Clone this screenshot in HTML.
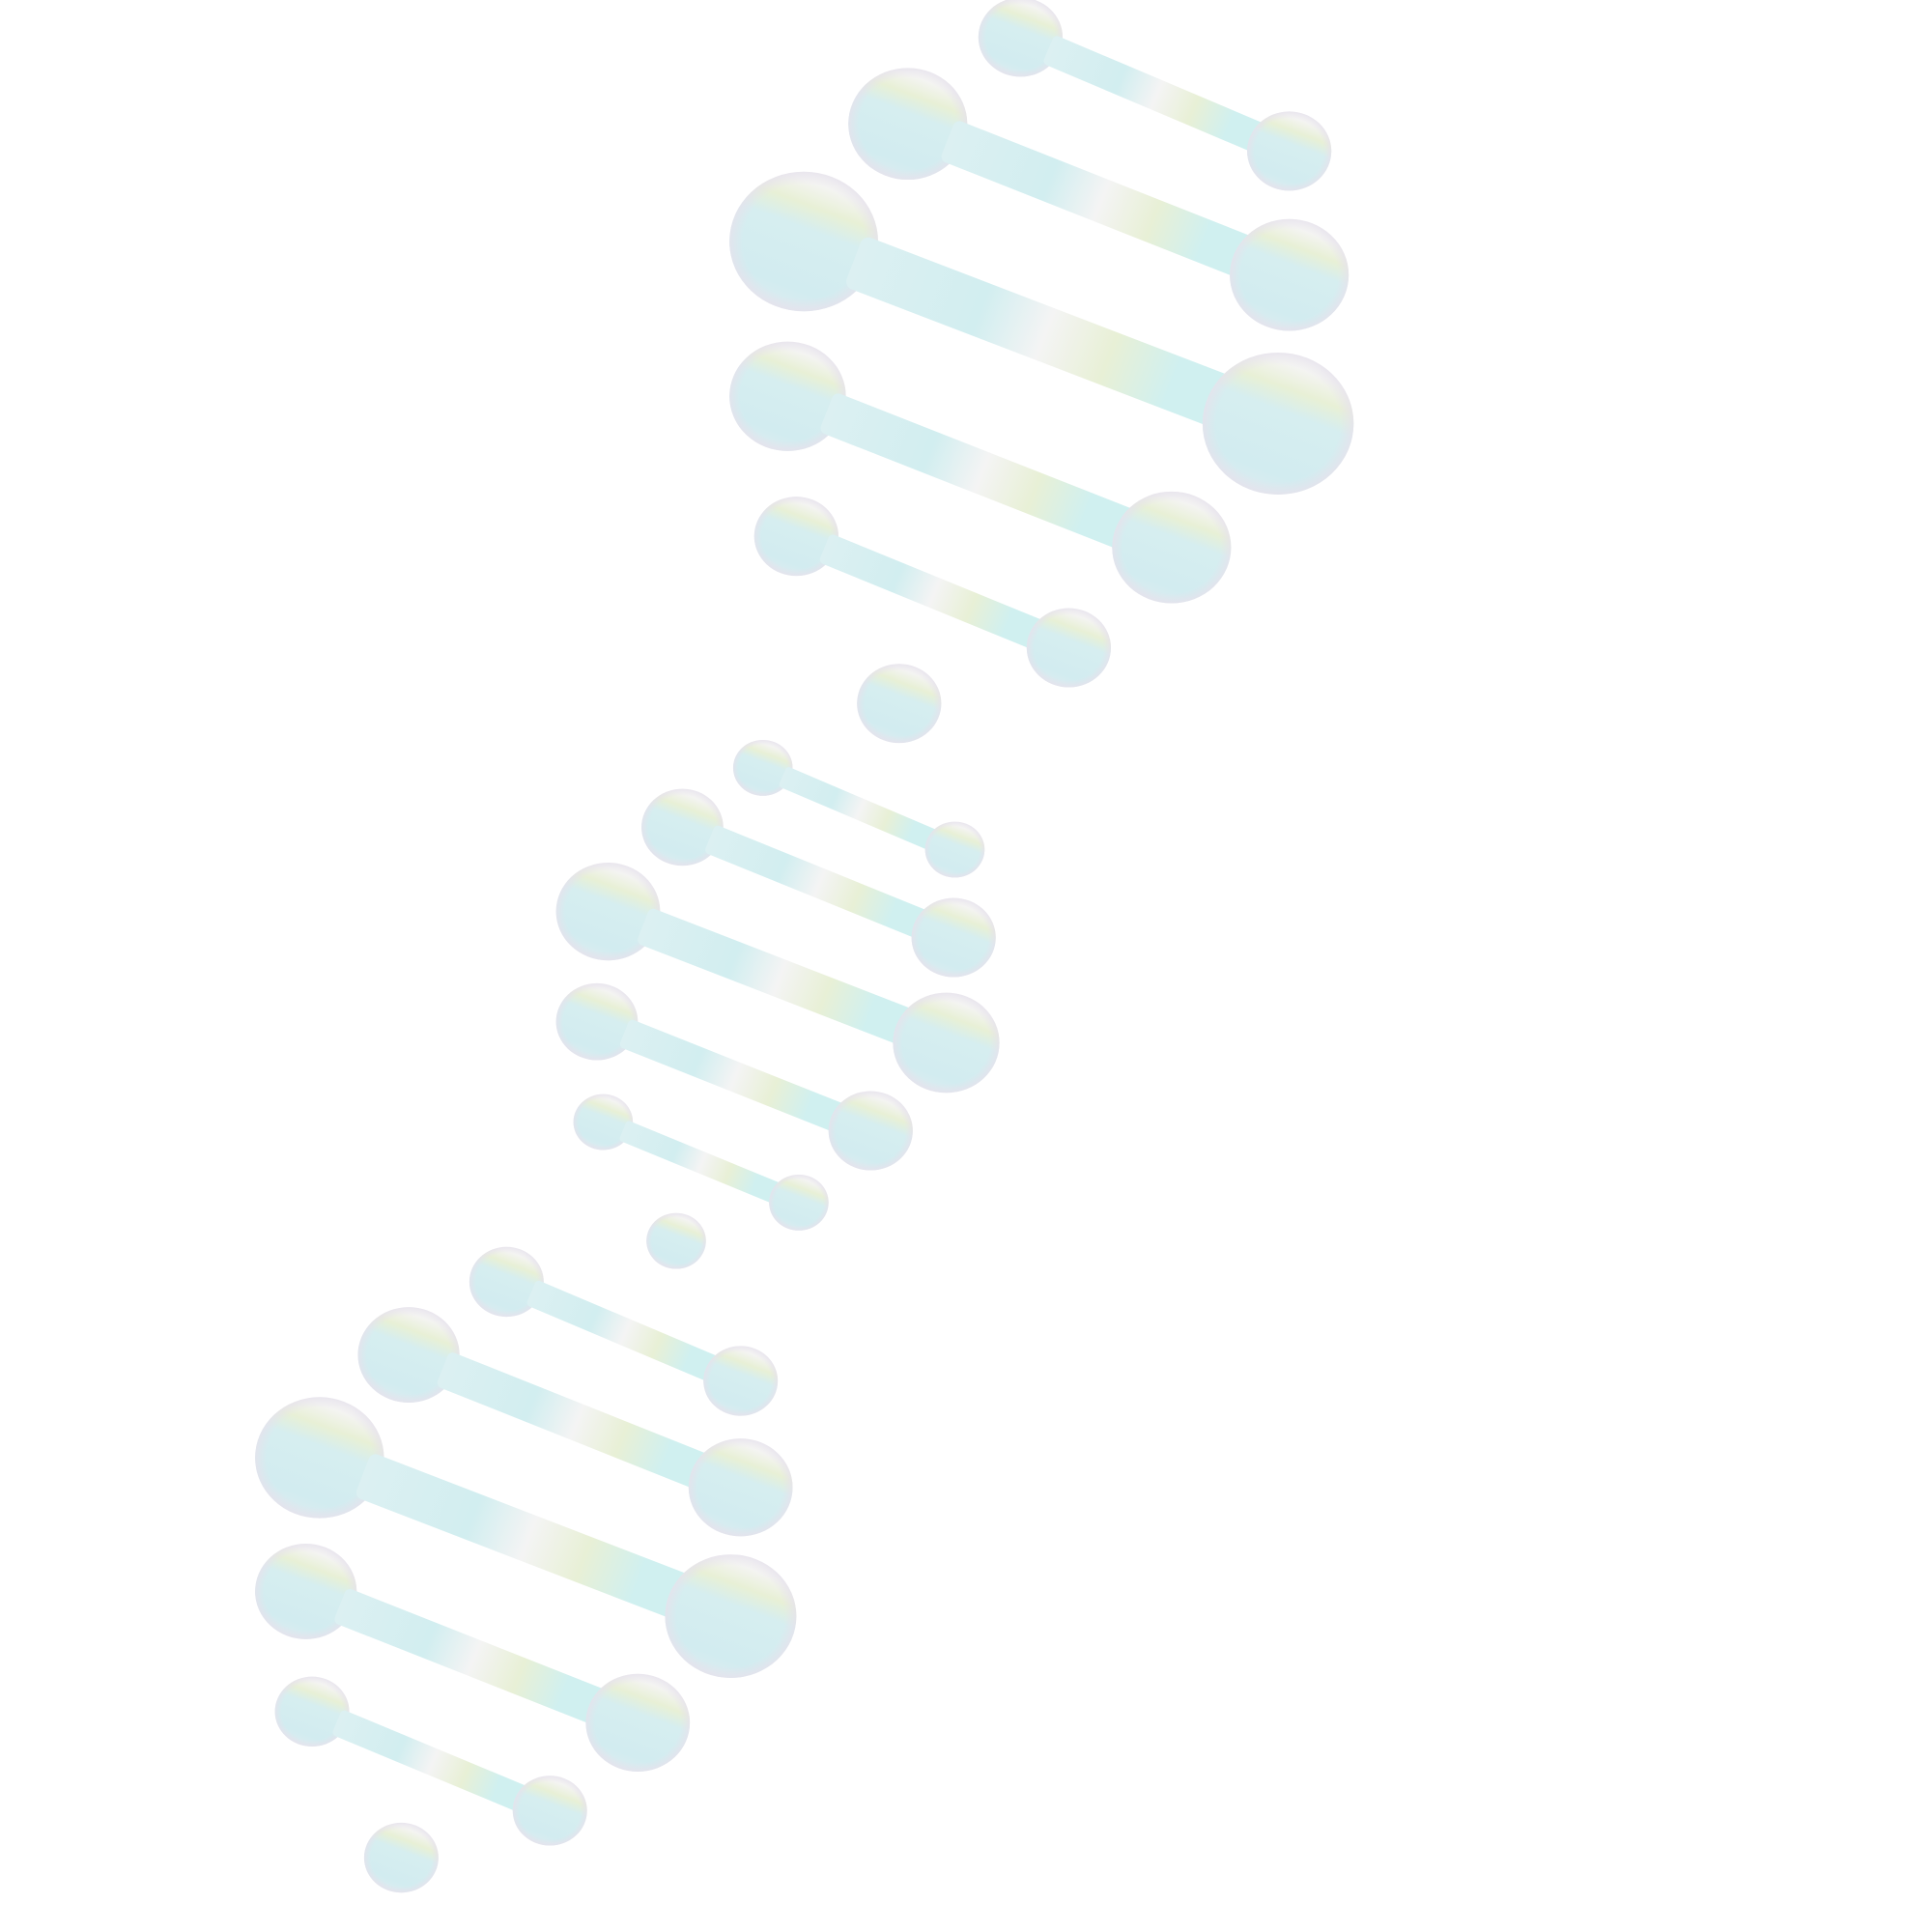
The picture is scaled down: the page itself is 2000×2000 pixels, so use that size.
<!DOCTYPE html>
<html><head><meta charset="utf-8"><style>
html,body{margin:0;padding:0;background:#fff;width:2000px;height:2000px;overflow:hidden}
svg{display:block}
</style></head><body>
<svg id="dna" width="2000" height="2000" viewBox="0 0 1560 1560" xmlns="http://www.w3.org/2000/svg">
<defs>
<linearGradient id="ballGrad" x1="0.8" y1="0" x2="0.4" y2="1">
<stop offset="0" stop-color="#f8f8f8"/>
<stop offset="0.15" stop-color="#f4f4f2"/>
<stop offset="0.3" stop-color="#e8f0d6"/>
<stop offset="0.45" stop-color="#d6eef0"/>
<stop offset="0.85" stop-color="#d2ecf0"/>
<stop offset="1" stop-color="#dcebf0"/>
</linearGradient>
<radialGradient id="ballEdge" cx="0.5" cy="0.5" r="0.5">
<stop offset="0.82" stop-color="#e6e2ec" stop-opacity="0"/>
<stop offset="1" stop-color="#e6e2ec" stop-opacity="0.8"/>
</radialGradient>
<linearGradient id="barGrad" x1="0" y1="0" x2="1" y2="0">
<stop offset="0" stop-color="#dcf0f2"/>
<stop offset="0.3" stop-color="#d2eef0"/>
<stop offset="0.45" stop-color="#f4f4f4"/>
<stop offset="0.6" stop-color="#e8f0d6"/>
<stop offset="0.75" stop-color="#d0f0f0"/>
<stop offset="1" stop-color="#d0f0f0"/>
</linearGradient>
</defs>
<g id="layer"></g>
</svg>
<script>
// rung data: left ball (x,y,r), right ball (x,y,r); single balls have no right side
const leftX  = [824,733,649,636,643,726, 616,551,491,482,487,546, 409,330,258,247,252,324];
const leftY  = [30,100,195,320,433,568, 620,668,736,825,906,1002, 1035,1094,1177,1285,1382,1500];
const leftR  = [34,48,60,47,34,34, 24,33,42,33,24,24, 30,41,52,41,30,30];
const rightX = [1041,1041,1032,946,863,null, 771,770,764,703,645,null, 598,598,590,515,444,null];
const rightY = [122,222,342,442,523,null, 686,757,842,913,971,null, 1115,1201,1305,1391,1462,null];
const rightR = [34,48,61,48,34,null, 24,34,43,34,24,null, 30,42,53,42,30,null];

const NS='http://www.w3.org/2000/svg';
const layer=document.getElementById('layer');
function ball(x,y,r,name){
  const g=document.createElementNS(NS,'g');
  
  
  const e=document.createElementNS(NS,'ellipse');
  e.setAttribute('cx',x);e.setAttribute('cy',y);e.setAttribute('rx',r);e.setAttribute('ry',r*0.94);
  e.setAttribute('fill','url(#ballGrad)');
  const e2=document.createElementNS(NS,'ellipse');
  e2.setAttribute('cx',x);e2.setAttribute('cy',y);e2.setAttribute('rx',r);e2.setAttribute('ry',r*0.94);
  e2.setAttribute('fill','url(#ballEdge)');
  g.appendChild(e);g.appendChild(e2);
  return g;
}
for(let i=0;i<leftX.length;i++){
  const grp=document.createElementNS(NS,'g');
  
  
  grp.appendChild(ball(leftX[i],leftY[i],leftR[i],'left-nucleotide'));
  if(rightX[i]!==null){
    const x1=leftX[i],y1=leftY[i],x2=rightX[i],y2=rightY[i];
    const len=Math.hypot(x2-x1,y2-y1), ang=Math.atan2(y2-y1,x2-x1)*180/Math.PI;
    const th=Math.min(leftR[i],rightR[i])*0.74;
    const start=leftR[i]*0.72;
    const bar=document.createElementNS(NS,'rect');
    
    
    bar.setAttribute('x',start);bar.setAttribute('y',-th/2);
    bar.setAttribute('width',len-start);bar.setAttribute('height',th);
    bar.setAttribute('rx',th*0.15);
    bar.setAttribute('fill','url(#barGrad)');
    bar.setAttribute('transform','translate('+x1+','+y1+') rotate('+ang+')');
    grp.appendChild(bar);
    grp.appendChild(ball(x2,y2,rightR[i],'right-nucleotide'));
  }
  layer.appendChild(grp);
}
</script>
</body></html>
